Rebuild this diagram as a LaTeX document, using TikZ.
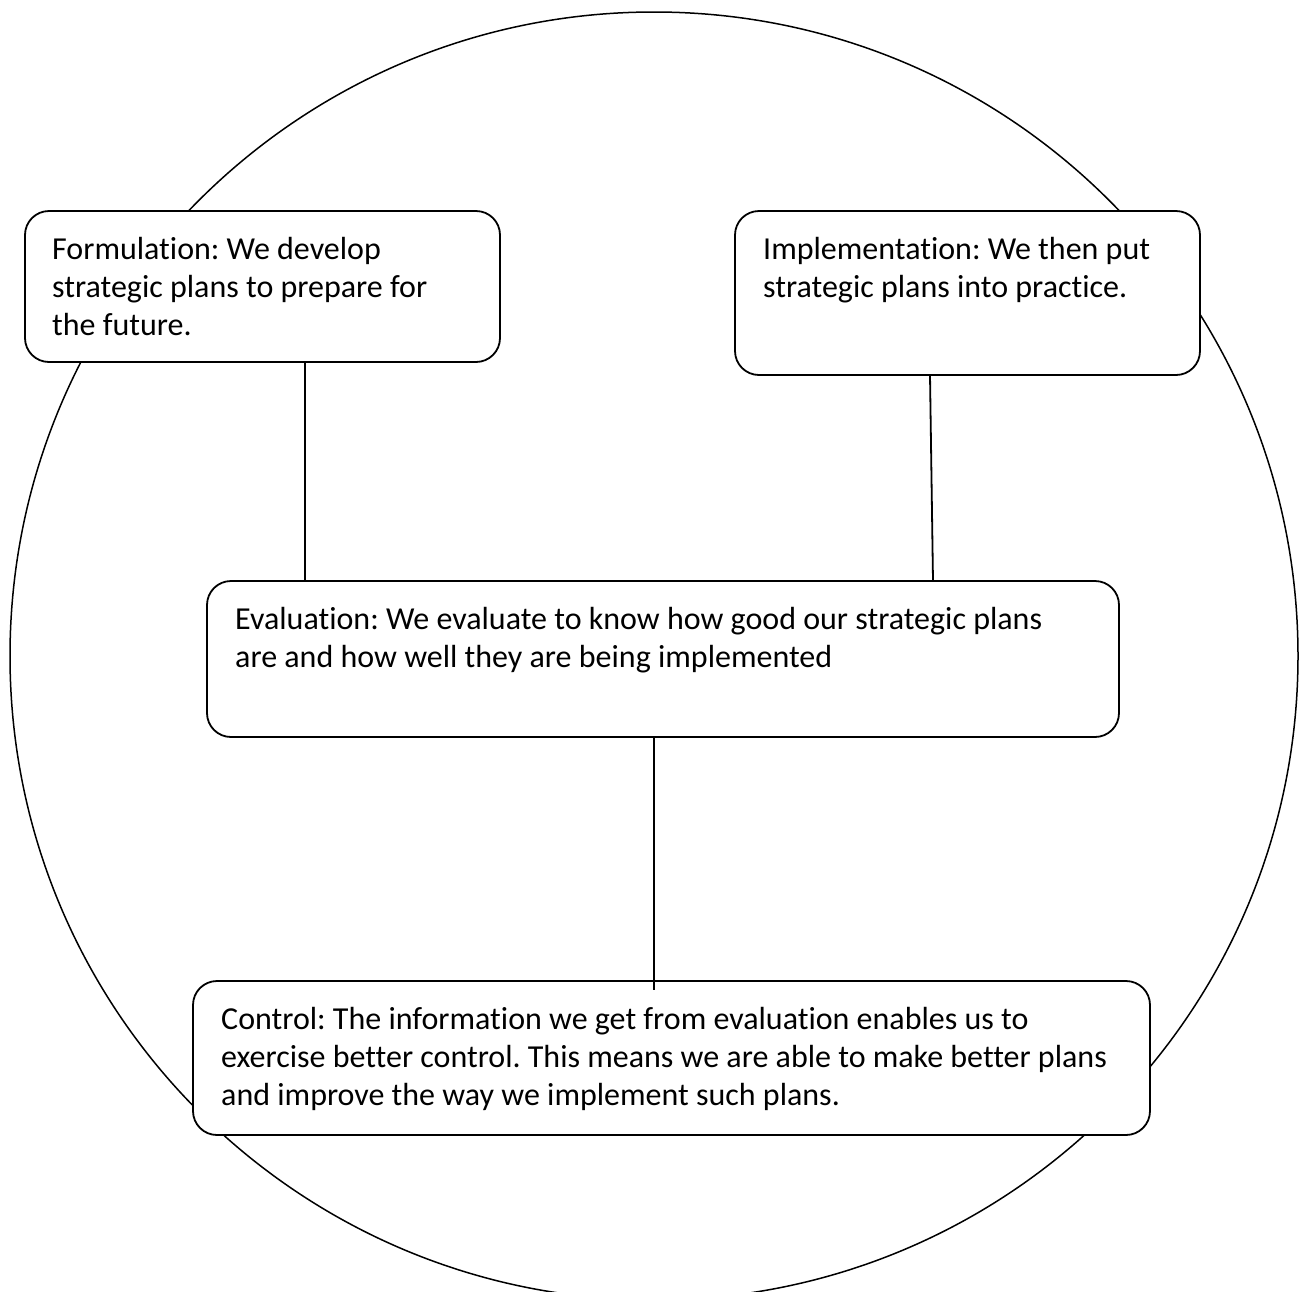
\documentclass[tikz,border=0pt]{standalone}
\usepackage{fontspec}
\setmainfont[RawFeature=-liga]{Carlito}
\frenchspacing
\begin{document}
\begin{tikzpicture}[x=1pt,y=-1pt,
  box/.style={draw, line width=1.8pt, rounded corners=24pt, fill=white,
    anchor=north west, inner sep=0pt, outer sep=0pt},
  txt/.style={anchor=base west, align=left, inner sep=0pt,
    font=\fontsize{32}{38}\selectfont},
  conn/.style={line width=1.8pt}]
\useasboundingbox (0,0) rectangle (1299,1291);
\clip (0,0) rectangle (1299,1291);
\fill[white] (0,0) rectangle (1299,1291);
\node[circle, draw, line width=1.5pt, minimum size=1288pt, inner sep=0pt] (ring) at (654,656) {};
\node[box, minimum width=475pt, minimum height=151pt] (form) at (25,211) {};
\node[box, minimum width=465pt, minimum height=164pt] (impl) at (735,211) {};
\node[box, minimum width=912pt, minimum height=156pt] (eval) at (207,581) {};
\node[box, minimum width=957pt, minimum height=154pt] (ctrl) at (193,981) {};
\draw[conn] ([xshift=280pt]form.south west) -- ([xshift=98pt]eval.north west);
\draw[conn] ([xshift=195pt]impl.south west) -- ([xshift=726pt]eval.north west);
\coordinate (ctrlin) at ([xshift=461pt,yshift=-9pt]ctrl.north west);
\draw[conn] ([xshift=447pt]eval.south west) -- (ctrlin);
% base west of a multi-line node is the baseline of its last line
\node[txt] (tform) at ([xshift=27pt,yshift=-124pt]form.north west)
  {Formulation: We develop\\strategic plans to prepare for\\the future.};
\node[txt] (timpl) at ([xshift=28pt,yshift=-86pt]impl.north west)
  {Implementation: We then put\\strategic plans into practice.};
\node[txt] (teval) at ([xshift=28pt,yshift=-86pt]eval.north west)
  {Evaluation: We evaluate to know how good our strategic plans\\are and how well they are being implemented};
\node[txt] (tctrl) at ([xshift=28pt,yshift=-124pt]ctrl.north west)
  {Control: The information we get from evaluation enables us to\\exercise better control. This means we are able to make better plans\\and improve the way we implement such plans.};
\end{tikzpicture}
\end{document}
